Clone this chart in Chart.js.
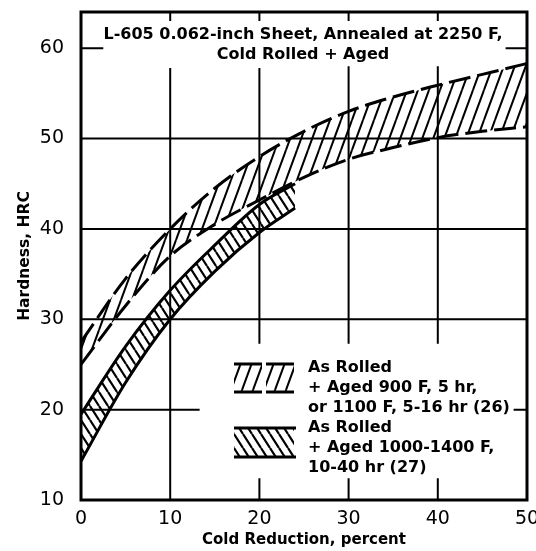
<!DOCTYPE html>
<html>
<head>
<meta charset="utf-8">
<script src="https://cdn.jsdelivr.net/npm/chart.js@4.4.0/dist/chart.umd.min.js"></script>
<style>
  html, body { margin: 0; padding: 0; background: #fff; }
  #wrap { width: 536px; height: 551px; position: relative; }
</style>
</head>
<body>
<div id="wrap"><canvas id="chart"></canvas></div>
<script>
// cold reduction, percent
const rolledX = [0, 5, 10, 15, 20, 25, 30, 35, 40, 45, 50];
// As Rolled + Aged 900 F / 1100 F (26) - dashed band
const rolledLow = [25, 31.5, 37, 40.5, 43.2, 45.7, 47.7, 49, 50.1, 50.8, 51.3];
const rolledHigh = [27.5, 34.5, 40, 44.5, 48, 50.8, 53, 54.6, 55.9, 57.1, 58.3];

// As Rolled + Aged 1000-1400 F (27) - solid band
const agedX = [0, 5, 10, 15, 20, 24];
const agedLow = [14.3, 23, 30, 35.3, 39.6, 42.3];
const agedHigh = [19.5, 27, 33.2, 38.2, 42.7, 45];

const xTicks = [0, 10, 20, 30, 40, 50];
const yTicks = [10, 20, 30, 40, 50, 60];

const titleLines = ["L-605 0.062-inch Sheet, Annealed at 2250 F,", "Cold Rolled + Aged"];
const legendLines = [
  ["As Rolled", "+ Aged 900 F, 5 hr,", "or 1100 F, 5-16 hr (26)"],
  ["As Rolled", "+ Aged 1000-1400 F,", "10-40 hr (27)"]
];

function pts(xs, ys) {
  return xs.map((v, i) => ({ x: v, y: ys[i] }));
}

function hatch(w, h, dir, lw) {
  const c = document.createElement("canvas");
  c.width = w; c.height = h;
  const g = c.getContext("2d");
  g.strokeStyle = "#000";
  g.lineWidth = lw;
  g.beginPath();
  for (let k = -1; k <= 1; k++) {
    if (dir > 0) { g.moveTo(k * w, h); g.lineTo(k * w + w, 0); }
    else { g.moveTo(k * w, 0); g.lineTo(k * w + w, h); }
  }
  g.stroke();
  return g.createPattern(c, "repeat");
}

const slashPattern = hatch(11, 30, 1, 2);
const backPattern = hatch(9, 14, -1, 2.2);

const FONT = "'DejaVu Sans', sans-serif";

// grid segments drawn with gaps (title box, legend box)
const gridPlugin = {
  id: "grid",
  beforeDatasetsDraw(chart) {
    const { ctx, scales: { x, y } } = chart;
    const h = [[60, 0, 2.5], [60, 47.6, 50], [50, 0, 50], [40, 0, 50], [30, 0, 50], [20, 0, 13.3], [20, 48.5, 50]];
    const v = [[10, 10, 57.8], [10, 63, 64],
      [20, 27.3, 57.8], [20, 10, 12.4], [20, 63, 64],
      [30, 27.3, 58], [30, 10, 12.4], [30, 63, 64],
      [40, 27.3, 58], [40, 10, 12.4], [40, 63, 64]];
    ctx.save();
    ctx.strokeStyle = "#000";
    ctx.lineWidth = 2;
    ctx.beginPath();
    h.forEach(([yv, a, b]) => {
      ctx.moveTo(x.getPixelForValue(a), y.getPixelForValue(yv));
      ctx.lineTo(x.getPixelForValue(b), y.getPixelForValue(yv));
    });
    v.forEach(([xv, a, b]) => {
      ctx.moveTo(x.getPixelForValue(xv), y.getPixelForValue(a));
      ctx.lineTo(x.getPixelForValue(xv), y.getPixelForValue(b));
    });
    ctx.stroke();
    ctx.restore();
  },
  afterDatasetsDraw(chart) {
    const { ctx, chartArea: a } = chart;
    ctx.save();
    ctx.strokeStyle = "#000";
    ctx.lineWidth = 3;
    ctx.strokeRect(a.left, a.top, a.right - a.left, a.bottom - a.top);

    // title
    ctx.fillStyle = "#000";
    ctx.font = "bold 16px " + FONT;
    ctx.textAlign = "center";
    ctx.textBaseline = "middle";
    ctx.fillText(titleLines[0], 303, 35);
    ctx.fillText(titleLines[1], 303, 55);

    // legend swatches
    ctx.fillStyle = slashPattern;
    ctx.fillRect(234, 364, 28, 28);
    ctx.fillRect(266, 364, 28, 28);
    ctx.beginPath();
    ctx.lineWidth = 3;
    [[234, 262], [266, 294]].forEach(([l, r]) => {
      ctx.moveTo(l, 364); ctx.lineTo(r, 364);
      ctx.moveTo(l, 392); ctx.lineTo(r, 392);
    });
    ctx.stroke();
    ctx.fillStyle = backPattern;
    ctx.fillRect(234, 428, 60, 29);
    ctx.beginPath();
    ctx.moveTo(234, 428); ctx.lineTo(296, 428);
    ctx.moveTo(234, 457); ctx.lineTo(296, 457);
    ctx.stroke();

    // legend text
    ctx.fillStyle = "#000";
    ctx.textAlign = "left";
    ctx.font = "bold 16px " + FONT;
    legendLines.forEach((lines, i) => {
      lines.forEach((t, j) => ctx.fillText(t, 308, 368 + i * 60 + j * 20));
    });
    ctx.restore();
  }
};

new Chart(document.getElementById("chart"), {
  type: "line",
  data: {
    datasets: [
      { data: pts(rolledX, rolledLow), borderDash: [22, 7], fill: false },
      { data: pts(rolledX, rolledHigh), borderDash: [22, 7], fill: "-1", backgroundColor: slashPattern },
      { data: pts(agedX, agedLow), fill: false },
      { data: pts(agedX, agedHigh), fill: "-1", backgroundColor: backPattern }
    ]
  },
  options: {
    responsive: true,
    maintainAspectRatio: false,
    animation: false,
    layout: { padding: { top: 12, right: 9, left: 0, bottom: 0 } },
    elements: {
      line: { borderColor: "#000", borderWidth: 3, cubicInterpolationMode: "monotone" },
      point: { radius: 0 }
    },
    plugins: { legend: { display: false }, tooltip: { enabled: false } },
    scales: {
      x: {
        type: "linear",
        min: 0,
        max: 50,
        grid: { display: false },
        border: { display: false },
        afterBuildTicks: s => { s.ticks = xTicks.map(v => ({ value: v })); },
        afterFit: s => { s.height = 51; s.paddingLeft = 0; s.paddingRight = 0; },
        ticks: { padding: 0, color: "#000", font: { family: FONT, size: 19 } },
        title: {
          display: true,
          text: "Cold Reduction, percent",
          color: "#000",
          font: { family: FONT, size: 15, weight: "bold" },
          padding: { top: 0, bottom: 2 }
        }
      },
      y: {
        min: 10,
        max: 64,
        grid: { display: false },
        border: { display: false },
        afterBuildTicks: s => { s.ticks = yTicks.map(v => ({ value: v })); },
        afterFit: s => { s.width = 81; s.paddingTop = 0; s.paddingBottom = 0; },
        ticks: { padding: 9, color: "#000", font: { family: FONT, size: 19 } },
        title: {
          display: true,
          text: "Hardness, HRC",
          color: "#000",
          font: { family: FONT, size: 15.5, weight: "bold" },
          padding: { top: 16, bottom: 0 }
        }
      }
    }
  },
  plugins: [gridPlugin]
});
</script>
</body>
</html>
